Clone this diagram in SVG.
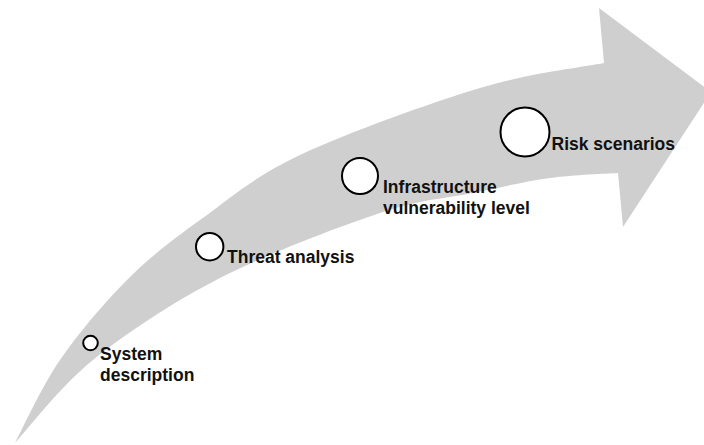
<svg xmlns="http://www.w3.org/2000/svg" width="704" height="445" viewBox="0 0 704 445">
  <style>
    .arrow { fill: #cfcfcf; stroke: none; }
    .dot { fill: #ffffff; stroke: #000000; stroke-width: 2; }
    .lbl { font-family: "Liberation Sans", Arial, sans-serif; font-weight: bold; font-size: 17.5px; fill: #111111; }
  </style>
  <rect width="704" height="445" fill="#ffffff"/>
  <g id="arrow">
    <path class="arrow" d="M15,443 C22.5,429.2 41.3,387.2 60,360 C78.7,332.8 103.7,303.3 127,280 C150.3,256.7 171.2,240.8 200,220 C228.8,199.2 253.3,177 300,155 C346.7,133 429.3,103.3 480,88 C530.7,72.7 583.3,67.2 604,63 L599,8 L711,92 L623,227 L618,173 C606.7,173.8 574.2,174.7 550,178 C525.8,181.3 501.3,187.2 473,193 C444.7,198.8 422.2,198.8 380,213 C337.8,227.2 267.8,253.5 220,278 C172.2,302.5 127.2,332.5 93,360 C58.8,387.5 28,429.2 15,443 Z"/>
  </g>
  <g id="connectors"></g>
  <g id="node-system">
    <circle class="dot" cx="90.5" cy="343" r="7.3"/>
    <text class="lbl" x="100" y="360">System</text>
    <text class="lbl" x="100" y="381">description</text>
  </g>
  <g id="node-threat">
    <circle class="dot" cx="209.7" cy="246.7" r="13.7"/>
    <text class="lbl" x="227" y="263">Threat analysis</text>
  </g>
  <g id="node-infra">
    <circle class="dot" cx="360" cy="176" r="18"/>
    <text class="lbl" x="383" y="193">Infrastructure</text>
    <text class="lbl" x="383" y="214">vulnerability level</text>
  </g>
  <g id="node-risk">
    <circle class="dot" cx="525" cy="132" r="24.5"/>
    <text class="lbl" x="551.5" y="150">Risk scenarios</text>
  </g>
</svg>
